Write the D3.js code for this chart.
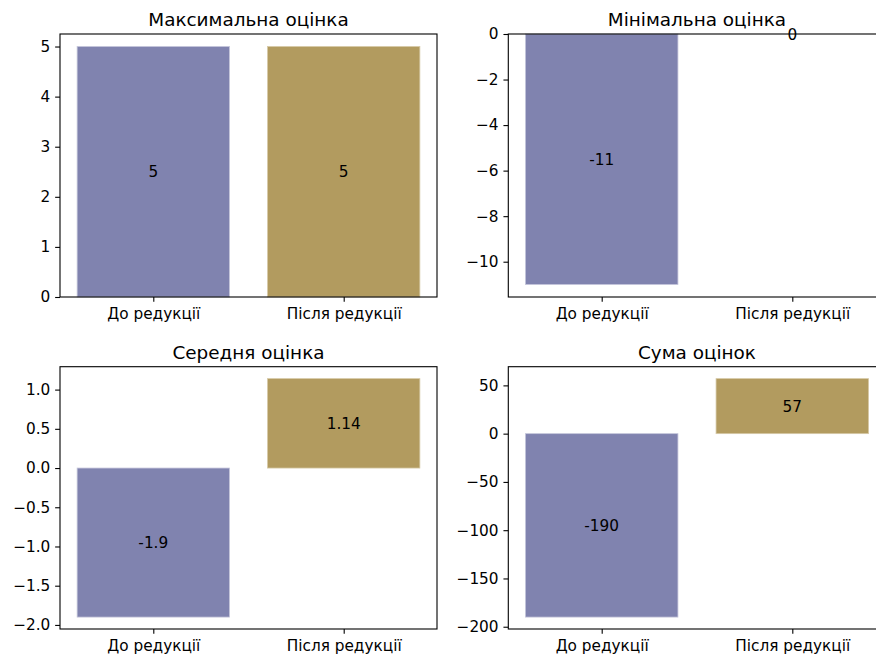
<!DOCTYPE html>
<html>
<head>
<meta charset="utf-8">
<script src="https://cdn.jsdelivr.net/npm/d3@7"></script>
<style>
  html, body { margin: 0; padding: 0; background: #fff; overflow: hidden; }
  svg { display: block; font-family: "DejaVu Sans", sans-serif; }
</style>
</head>
<body>
<svg id="chart" width="876" height="659"></svg>
<script>
// Categories shared by all four panels
const categories = ["До редукції", "Після редукції"];

// Panel titles
const titles = ["Максимальна оцінка", "Мінімальна оцінка", "Середня оцінка", "Сума оцінок"];

// Values per panel (before / after reduction)
const maxScores = [5, 5];
const minScores = [-11, 0];
const meanScores = [-1.9, 1.14];
const sumScores = [-190, 57];

// Labels printed inside the bars
const maxLabels = ["5", "5"];
const minLabels = ["-11", "0"];
const meanLabels = ["-1.9", "1.14"];
const sumLabels = ["-190", "57"];

// Y tick values per panel
const maxTicks = [0, 1, 2, 3, 4, 5];
const minTicks = [-10, -8, -6, -4, -2, 0];
const meanTicks = [-2.0, -1.5, -1.0, -0.5, 0.0, 0.5, 1.0];
const sumTicks = [-200, -150, -100, -50, 0, 50];

const barColors = ["#8083af", "#b29b5f"];
const barEdges = ["#c4c5da", "#d6c9a6"];

// Axes boxes in pixels
const boxes = [
  { left: 60, right: 437, top: 34, bottom: 297 },
  { left: 508.3, right: 885.7, top: 34, bottom: 297 },
  { left: 60, right: 437, top: 366.7, bottom: 629 },
  { left: 508.3, right: 885.7, top: 366.7, bottom: 629 }
];

const panels = [
  { values: maxScores, labels: maxLabels, ticks: maxTicks, fmt: d3.format("d") },
  { values: minScores, labels: minLabels, ticks: minTicks, fmt: d3.format("d") },
  { values: meanScores, labels: meanLabels, ticks: meanTicks, fmt: d3.format(".1f") },
  { values: sumScores, labels: sumLabels, ticks: sumTicks, fmt: d3.format("d") }
];

const svg = d3.select("#chart");
const tickLen = 4.86;
const tickPad = 4.86;
const barWidth = 0.8;
const tickFont = "15.3px";
const titleFont = "18.4px";

// Matplotlib-like formatting: unicode minus on tick labels
const minusFmt = f => v => f(v).replace("-", "\u2212");

panels.forEach((p, i) => {
  const b = boxes[i];
  const g = svg.append("g");

  // Bars are sticky at zero; a 5% margin is added on the data side(s)
  let lo = Math.min(0, d3.min(p.values));
  let hi = Math.max(0, d3.max(p.values));
  const span = hi - lo;
  const yLo = lo < 0 ? lo - 0.05 * span : 0;
  const yHi = hi > 0 ? hi + 0.05 * span : 0;

  const x = d3.scaleLinear()
    .domain([-barWidth / 2 - 0.09, categories.length - 1 + barWidth / 2 + 0.09])
    .range([b.left, b.right]);
  const y = d3.scaleLinear().domain([yLo, yHi]).range([b.bottom, b.top]);

  // Bars
  g.selectAll("rect.bar")
    .data(p.values)
    .join("rect")
    .attr("class", "bar")
    .attr("x", (d, j) => x(j - barWidth / 2))
    .attr("width", (d, j) => x(j + barWidth / 2) - x(j - barWidth / 2))
    .attr("y", d => y(Math.max(0, d)))
    .attr("height", d => Math.abs(y(d) - y(0)))
    .attr("fill", (d, j) => barColors[j])
    .attr("stroke", (d, j) => barEdges[j])
    .attr("stroke-width", 0.8);

  // Frame
  g.append("rect")
    .attr("x", b.left).attr("y", b.top)
    .attr("width", b.right - b.left).attr("height", b.bottom - b.top)
    .attr("fill", "none").attr("stroke", "#000").attr("stroke-width", 1.1);

  // Y axis
  const yAxis = d3.axisLeft(y)
    .tickValues(p.ticks)
    .tickFormat(minusFmt(p.fmt))
    .tickSize(tickLen)
    .tickPadding(tickPad);
  const ya = g.append("g").attr("transform", `translate(${b.left},0)`).call(yAxis);
  ya.select(".domain").remove();
  ya.selectAll(".tick line").attr("stroke", "#000").attr("stroke-width", 1.1);
  ya.selectAll(".tick text")
    .attr("fill", "#000")
    .style("font-size", tickFont)
    .style("font-family", "DejaVu Sans, sans-serif");

  // X axis
  const xAxis = d3.axisBottom(x)
    .tickValues(d3.range(categories.length))
    .tickFormat(j => categories[j])
    .tickSize(tickLen)
    .tickPadding(tickPad + 1.5);
  const xa = g.append("g").attr("transform", `translate(0,${b.bottom})`).call(xAxis);
  xa.select(".domain").remove();
  xa.selectAll(".tick line").attr("stroke", "#000").attr("stroke-width", 1.1);
  xa.selectAll(".tick text")
    .attr("fill", "#000")
    .attr("dy", "0.71em")
    .style("font-size", tickFont)
    .style("font-family", "DejaVu Sans, sans-serif");

  // Value labels centred in each bar
  g.selectAll("text.val")
    .data(p.values)
    .join("text")
    .attr("class", "val")
    .attr("x", (d, j) => x(j))
    .attr("y", d => y(d / 2))
    .attr("dy", "0.36em")
    .attr("text-anchor", "middle")
    .style("font-size", tickFont)
    .attr("fill", "#000")
    .text((d, j) => p.labels[j]);

  // Title
  g.append("text")
    .attr("x", (b.left + b.right) / 2)
    .attr("y", b.top - 8)
    .attr("text-anchor", "middle")
    .style("font-size", titleFont)
    .attr("fill", "#000")
    .text(titles[i]);
});
</script>
</body>
</html>
